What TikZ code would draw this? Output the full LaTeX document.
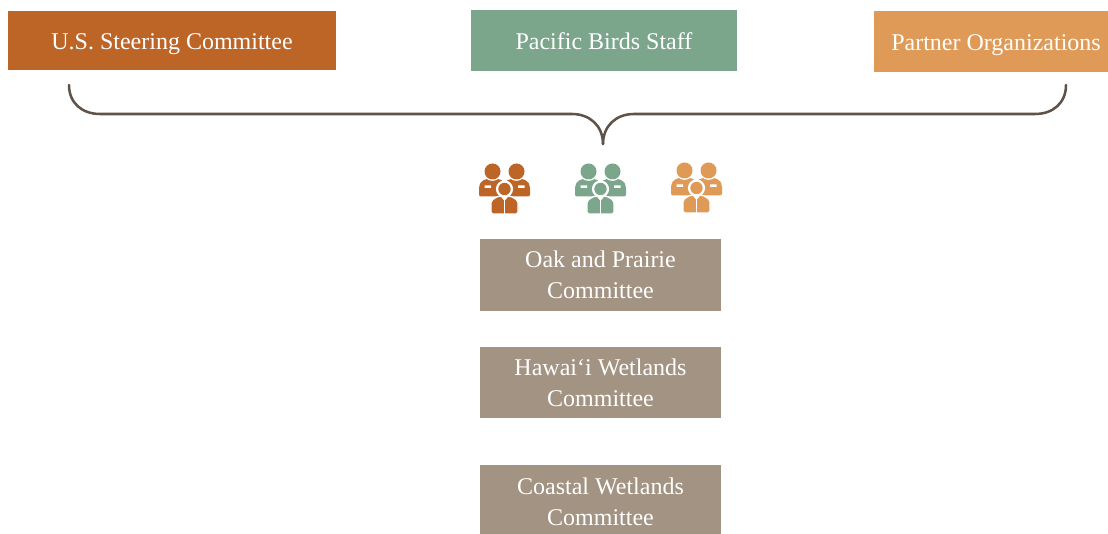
\documentclass[tikz,border=0pt]{standalone}
\usepackage{fontspec}
\setmainfont{Liberation Serif}
\definecolor{steerc}{HTML}{BD6427}
\definecolor{staffc}{HTML}{7BA68C}
\definecolor{partnerc}{HTML}{DF9A57}
\definecolor{taupec}{HTML}{A39382}
\definecolor{bracec}{HTML}{5F5248}
\tikzset{
  boxnode/.style={rectangle, inner sep=0pt, text=white, align=center, font=\fontsize{18}{23.4}\selectfont},
  onerow/.style={boxnode, text height=14pt, text depth=1pt},
  bracket/.style={draw=bracec, line width=1.9pt, line cap=round},
  pics/persons/.style={code={
    \fill[#1,rounded corners=1.5] (-25.5,6.5)--(-25.5,-4)--(-23,-9)--(-12,-13)--(-1,-9)--(1,-3)--(0,6.5)--cycle;
    \fill[#1,rounded corners=1.5] (25.5,6.5)--(25.5,-4)--(23,-9)--(12,-13)--(1,-9)--(-1,-3)--(0,6.5)--cycle;
    \fill[white] (-12,-18.5) circle(9.4) (12,-18.5) circle(9.4);
    \fill[#1] (-12,-18.5) circle(8) (12,-18.5) circle(8);
    \fill[white] (-20,-4.5) rectangle (-13.5,-2) (13.5,-4.5) rectangle (20,-2);
    \fill[white] (0,-1) circle(8.6);
    \fill[#1] (0,-1) circle(6.2);
    \fill[#1,rounded corners=1.2,draw=white,line width=1pt] (-13.5,24)--(-13.5,11)--(-9,7.5)--(-5,6)--(5,6)--(9,7.5)--(13.5,11)--(13.5,24)--cycle;
    \fill[white] (-4.5,5.5)--(4.5,5.5)--(0,11)--cycle;
    \fill[white] (-0.8,10) rectangle (0.8,25);
  }}
}
\begin{document}
\begin{tikzpicture}[x=0.75pt,y=-0.75pt]
  \useasboundingbox (0,0) rectangle (1108,534);
  \clip (0,0) rectangle (1108,534);
  % top row
  \node[onerow,fill=steerc,minimum width=246pt,minimum height=44.25pt] (steering) at (172,40.5) {U.S. Steering Committee};
  \node[onerow,fill=staffc,minimum width=199.5pt,minimum height=45.75pt] (staff) at (604,40.5) {Pacific Birds Staff};
  \node[onerow,fill=partnerc,minimum width=183pt,minimum height=45.75pt] (partner) at (996,41.5) {Partner Organizations};
  % bracket
  \coordinate (braceleft) at (69,85);
  \coordinate (braceright) at (1066,85);
  \coordinate (bracetip) at (603,144);
  \draw[bracket] (braceleft) .. controls (69,103) and (82,114) .. (100,114) -- (572,114)
    .. controls (590,114) and (603,126) .. (bracetip);
  \draw[bracket] (braceright) .. controls (1066,103) and (1053,114) .. (1035,114) -- (634,114)
    .. controls (616,114) and (603,126) .. (bracetip);
  % people
  \pic at (504.5,190) {persons=steerc};
  \pic at (600.5,190) {persons=staffc};
  \pic at (696.5,189) {persons=partnerc};
  % committees
  \node[boxnode,fill=taupec,minimum width=180.75pt,minimum height=54pt] (oak) at (600.5,275) {Oak and Prairie\\Committee};
  \node[boxnode,fill=taupec,minimum width=180.75pt,minimum height=53.25pt] (hawaii) at (600.5,382.5) {Hawai‘i Wetlands\\Committee};
  \node[boxnode,fill=taupec,minimum width=180.75pt,minimum height=54.75pt] (coastal) at (600.5,501.5) {Coastal Wetlands\\Committee};
\end{tikzpicture}
\end{document}
